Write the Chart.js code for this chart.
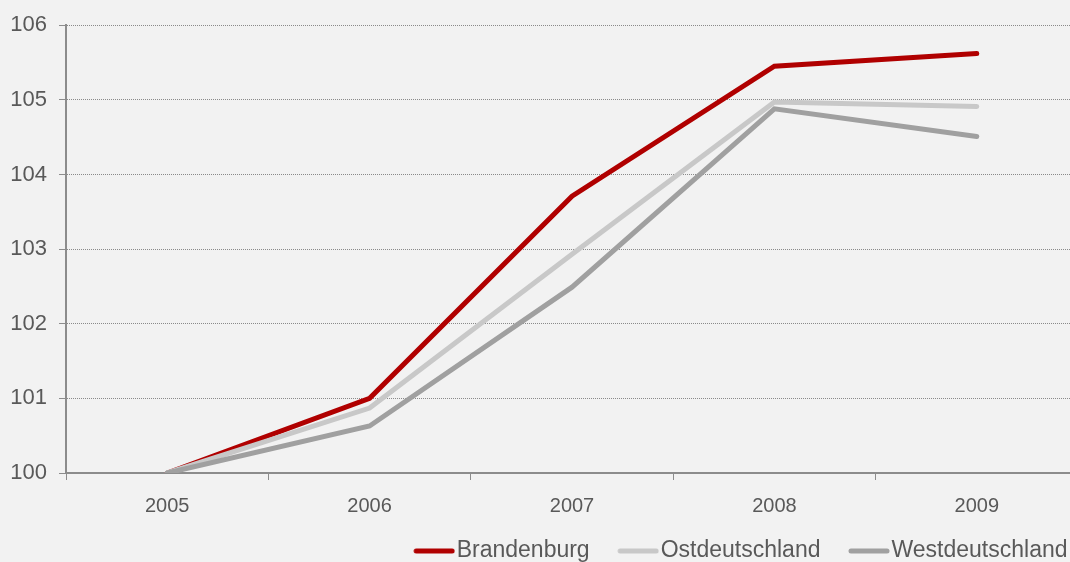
<!DOCTYPE html>
<html>
<head>
<meta charset="utf-8">
<script src="https://cdn.jsdelivr.net/npm/chart.js@4/dist/chart.umd.min.js"></script>
<style>
  html, body { margin: 0; padding: 0; background: #f2f2f2; overflow: hidden; width: 1070px; height: 562px; }
  #wrap { position: absolute; left: 0; top: 0; width: 1080px; height: 575px; }
</style>
</head>
<body>
<div id="wrap"><canvas id="c" width="1080" height="575"></canvas></div>
<script>
const years = ['2005', '2006', '2007', '2008', '2009'];
const seriesNames = ['Brandenburg', 'Ostdeutschland', 'Westdeutschland'];
const brandenburg = [100, 101.0, 103.71, 105.45, 105.62];
const ostdeutschland = [100, 100.87, 102.93, 104.97, 104.91];
const westdeutschland = [100, 100.63, 102.49, 104.88, 104.51];
const yTicks = [100, 101, 102, 103, 104, 105, 106];

const colors = ['#b00000', '#c8c8c8', '#a0a0a0'];
const textColor = '#595959';
const axisColor = '#8c8c8c';
const FONT = "'Liberation Sans', Arial, sans-serif";

function legendImg(color) {
  const c = document.createElement('canvas');
  c.width = 60; c.height = 8;
  const g = c.getContext('2d');
  g.strokeStyle = color; g.lineWidth = 5; g.lineCap = 'round';
  g.beginPath(); g.moveTo(21, 4); g.lineTo(57, 4); g.stroke();
  return c;
}

const values = [brandenburg, ostdeutschland, westdeutschland];
// draw order: West on top, then Ost, Brandenburg at bottom
const datasets = values.map((v, i) => ({
  label: seriesNames[i],
  data: v,
  borderColor: colors[i],
  backgroundColor: colors[i],
  borderWidth: 5,
  borderCapStyle: 'round',
  borderJoinStyle: 'miter',
  pointRadius: 0,
  pointHoverRadius: 0,
  tension: 0,
  fill: false,
  order: 3 - i
}));

const legendShift = {
  id: 'legendShift',
  afterLayout(chart) {
    if (chart.legend) { chart.legend.left += 9; chart.legend.right += 9; }
  }
};

new Chart(document.getElementById('c'), {
  type: 'line',
  data: { labels: years, datasets },
  plugins: [legendShift],
  options: {
    responsive: false,
    animation: false,
    events: [],
    layout: { padding: { top: 11, right: 2, bottom: 2.5, left: 0 } },
    plugins: {
      tooltip: { enabled: false },
      legend: {
        position: 'bottom',
        align: 'end',
        labels: {
          usePointStyle: true,
          pointStyleWidth: 40,
          padding: 19.5,
          color: textColor,
          font: { family: FONT, size: 23 },
          generateLabels(chart) {
            return seriesNames.map((n, i) => ({
              text: n,
              fillStyle: colors[i],
              strokeStyle: colors[i],
              fontColor: textColor,
              lineWidth: 0,
              pointStyle: legendImg(colors[i]),
              hidden: false,
              datasetIndex: i
            }));
          }
        }
      }
    },
    scales: {
      x: {
        type: 'category',
        offset: true,
        afterFit(s) { s.height = 47; },
        grid: {
          offset: true,
          drawOnChartArea: false,
          drawTicks: true,
          tickLength: 7,
          color: axisColor,
          lineWidth: 1
        },
        border: { display: true, color: axisColor, width: 2 },
        ticks: { color: textColor, font: { family: FONT, size: 20 }, padding: 14, maxRotation: 0 }
      },
      y: {
        min: 100,
        max: 106,
        afterFit(s) { s.width = 66; },
        afterBuildTicks(s) { s.ticks = yTicks.map(v => ({ value: v })); },
        grid: {
          color: '#8a8a8a',
          lineWidth: 1,
          tickBorderDash: [],
          tickColor: axisColor,
          tickLength: 7,
          tickWidth: 1
        },
        border: { display: true, color: axisColor, width: 2, dash: [1, 1] },
        ticks: { color: textColor, font: { family: FONT, size: 22 }, padding: 12 }
      }
    }
  }
});
</script>
</body>
</html>
